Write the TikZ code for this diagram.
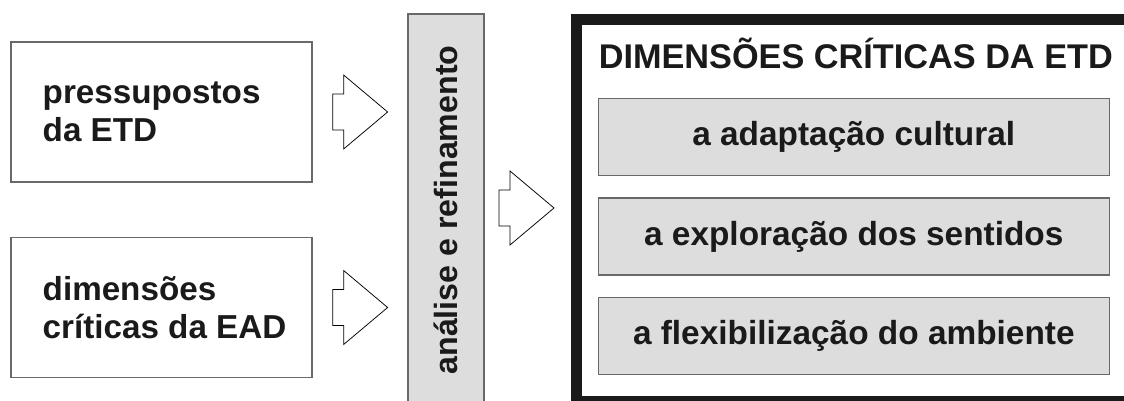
\documentclass[tikz,border=0pt]{standalone}
\usepackage{fontspec}
\setmainfont{Liberation Sans}
\usetikzlibrary{positioning}
\definecolor{boxgray}{RGB}{221,221,221}
\definecolor{edgegray}{RGB}{105,105,105}
\definecolor{inkblack}{RGB}{26,26,26}
\tikzset{every node/.style={text=inkblack},
 blockarrow/.pic={\draw[line width=.15mm] (0,-18)--(11,-18)--(11,-37)--(55,0)--(11,37)--(11,18)--(0,18)--cycle;}}
\begin{document}
\begin{tikzpicture}[x=.2mm,y=-.2mm,
 srcbox/.style={draw=edgegray,line width=.25mm,minimum width=60.2mm,minimum height=28mm},
 srctext/.style={inner sep=0pt,align=left,font=\fontsize{18.9}{21.3}\selectfont\bfseries},
 dimbox/.style={draw=edgegray,fill=boxgray,line width=.25mm,minimum width=102.2mm,minimum height=15.4mm,font=\fontsize{19}{21}\selectfont\bfseries}]
\clip (0,0) rectangle (1124,401);
\node[srcbox] (pre) at (161.5,112) {};
\node[srctext,right=6.4mm of pre.west] (pretxt) {pressupostos\\da ETD};
\node[srcbox] (ead) at (161.5,307.5) {};
\node[srctext,right=6.4mm of ead.west] (eadtxt) {dimensões\\críticas da EAD};
\pic at ([xshift=4mm]pre.east) {blockarrow};
\pic at ([xshift=4mm]ead.east) {blockarrow};
\node[draw=edgegray,fill=boxgray,line width=.25mm,rotate=90,minimum width=78.4mm,minimum height=15.2mm,font=\fontsize{18.3}{20}\selectfont\bfseries] (bar) at (446,210) {análise e refinamento};
\pic at (499,208) {blockarrow};
\draw[inkblack,line width=2.2mm] (576.5,20) rectangle (1135,402);
\node[anchor=base,font=\fontsize{19.5}{21}\selectfont\bfseries] (ttl) at (855.8,68.5) {DIMENSÕES CRÍTICAS DA ETD};
\node[dimbox] (cul) at (853.8,136.7) {a adaptação cultural};
\node[dimbox,below=4.3mm of cul] (sen) {a exploração dos sentidos};
\node[dimbox,below=4.3mm of sen] (amb) {a flexibilização do ambiente};
\end{tikzpicture}
\end{document}
